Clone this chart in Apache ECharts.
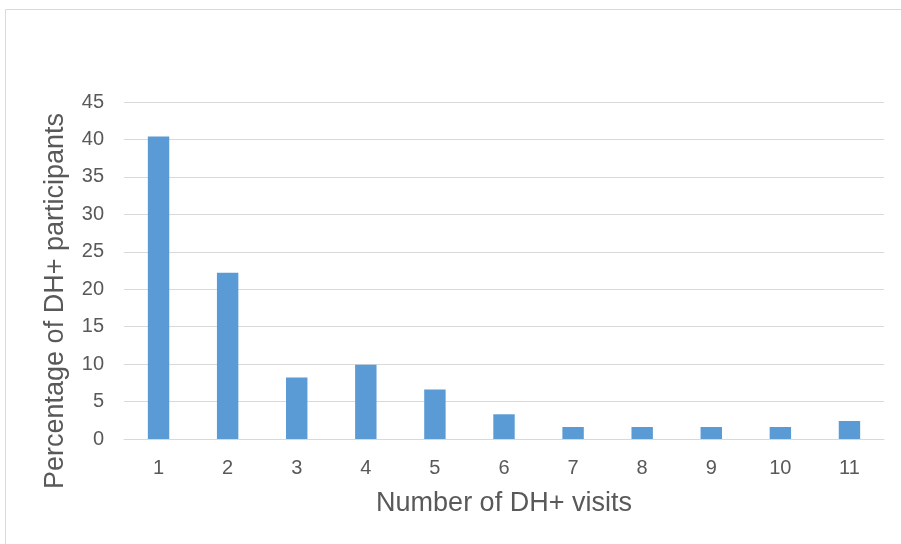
<!DOCTYPE html>
<html>
<head>
<meta charset="utf-8">
<script src="https://cdn.jsdelivr.net/npm/echarts@6/dist/echarts.min.js"></script>
<style>
  html, body { margin: 0; padding: 0; background: #fff; }
  #chart { width: 901px; height: 544px; }
</style>
</head>
<body>
<div id="chart"></div>
<script>
// Number of visits per participant and the share of participants (%)
const visits = ['1', '2', '3', '4', '5', '6', '7', '8', '9', '10', '11'];
const percentages = [40.4, 22.2, 8.2, 9.9, 6.6, 3.3, 1.6, 1.6, 1.6, 1.6, 2.4];
const yTicks = { min: 0, max: 45, step: 5 };

const xTitle = 'Number of DH+ visits';
const yTitle = 'Percentage of DH+ participants';

const textColor = '#595959';
const fontFamily = '"Liberation Sans", Arial, sans-serif';

const chart = echarts.init(document.getElementById('chart'), null, { renderer: 'canvas' });

chart.setOption({
  backgroundColor: '#ffffff',
  animation: false,
  textStyle: { fontFamily: fontFamily },
  grid: { left: 124, right: 17, top: 102, bottom: 105, containLabel: false },
  graphic: [
    {
      // outer frame of the chart area
      type: 'rect',
      shape: { x: 5.5, y: 9.5, width: 1200, height: 1200 },
      style: { fill: 'none', stroke: '#d9d9d9', lineWidth: 1 },
      silent: true
    },
    {
      type: 'text',
      x: 56,
      y: 301,
      rotation: Math.PI / 2,
      style: {
        text: yTitle,
        fill: textColor,
        font: '27px ' + fontFamily,
        textAlign: 'center',
        textVerticalAlign: 'middle'
      }
    }
  ],
  xAxis: {
    type: 'category',
    data: visits,
    name: xTitle,
    nameLocation: 'middle',
    nameGap: 51,
    nameTextStyle: { color: textColor, fontSize: 27, fontFamily: fontFamily },
    axisLine: { show: true, lineStyle: { color: '#d9d9d9', width: 1 } },
    axisTick: { show: false },
    axisLabel: { color: textColor, fontSize: 20, margin: 19, fontFamily: fontFamily }
  },
  yAxis: {
    type: 'value',
    min: yTicks.min,
    max: yTicks.max,
    interval: yTicks.step,
    axisLine: { show: false },
    axisTick: { show: false },
    axisLabel: { color: textColor, fontSize: 20, margin: 20, fontFamily: fontFamily },
    splitLine: { show: true, lineStyle: { color: '#d9d9d9', width: 1 } }
  },
  series: [
    {
      type: 'bar',
      data: percentages,
      barWidth: '31%',
      itemStyle: { color: '#5b9bd5' }
    }
  ]
});
</script>
</body>
</html>
